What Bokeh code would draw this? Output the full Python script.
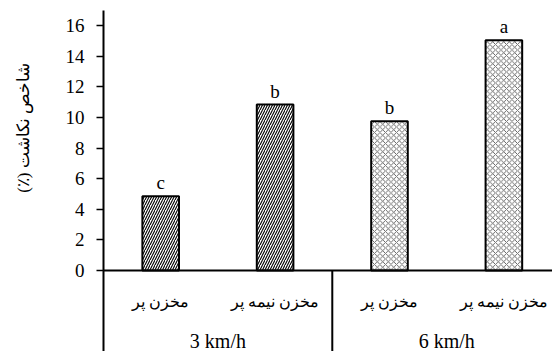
from bokeh.plotting import figure
from bokeh.models import Range1d, FixedTicker, ColumnDataSource, Span
from bokeh.core.properties import value
from bokeh.embed import file_html
from bokeh.resources import INLINE

groups = ["3 km/h", "6 km/h"]
categories = ["مخزن پر", "مخزن نیمه پر", "مخزن پر", "مخزن نیمه پر"]
values = [4.85, 10.85, 9.75, 15.05]
letters = ["c", "b", "b", "a"]
y_ticks = [0, 2, 4, 6, 8, 10, 12, 14, 16]
y_label = "شاخص نکاشت (٪)"

FONT = "Liberation Serif"
RLE, PDF = "\u202B", "\u202C"
PAD = "\u00A0" * 25   # shifts the centred axis title up along the axis

xs = [i + 0.5 for i in range(len(categories))]

p = figure(width=552, height=351, output_backend="svg", toolbar_location=None,
           x_range=Range1d(0, 3.925), y_range=Range1d(-5.3, 17),
           min_border_left=103, min_border_right=0, min_border_top=10, min_border_bottom=0)
p.outline_line_color = None
p.background_fill_color = "white"
p.border_fill_color = "white"
p.xgrid.visible = False
p.ygrid.visible = False
p.xaxis.visible = False

ya = p.yaxis[0]
ya.ticker = FixedTicker(ticks=y_ticks)
ya.axis_line_width = 2
ya.axis_line_color = "black"
ya.major_tick_line_width = 1.5
ya.major_tick_out = 7
ya.major_tick_in = 0
ya.minor_tick_line_color = None
ya.major_label_standoff = 12
ya.major_label_text_font = FONT
ya.major_label_text_font_size = "19px"
ya.major_label_text_color = "black"
ya.axis_label = PAD + RLE + y_label + PDF
ya.axis_label_text_font = FONT
ya.axis_label_text_font_size = "17px"
ya.axis_label_text_font_style = "normal"
ya.axis_label_text_color = "black"
ya.axis_label_standoff = 30

g1 = ColumnDataSource(dict(x=xs[:2], top=values[:2]))
g2 = ColumnDataSource(dict(x=xs[2:], top=values[2:]))
p.vbar(x="x", top="top", width=0.32, bottom=0, source=g1, fill_color="white",
       line_color="black", line_width=2, hatch_pattern="/", hatch_color="black",
       hatch_weight=1.1, hatch_scale=5)
p.vbar(x="x", top="top", width=0.32, bottom=0, source=g2, fill_color="white",
       line_color="black", line_width=2, hatch_pattern="x", hatch_color="#555555",
       hatch_weight=0.9, hatch_scale=5.5)

# zero baseline
p.add_layout(Span(location=0, dimension="width", line_color="black", line_width=2))
# group separator
p.segment(x0=[2], y0=[0], x1=[2], y1=[-5.3], line_color="black", line_width=2)

lab = ColumnDataSource(dict(x=xs, y=values, t=letters))
p.text(x="x", y="y", text="t", source=lab, text_align="center", text_baseline="bottom",
       y_offset=-3, text_font=value(FONT), text_font_size="19px", text_color="black")

cat = ColumnDataSource(dict(x=xs, y=[-2.0] * 4, t=categories))
p.text(x="x", y="y", text="t", source=cat, text_align="center", text_baseline="middle",
       text_font=value(FONT), text_font_size="16px", text_color="black")

grp = ColumnDataSource(dict(x=[1.0, 3.0], y=[-4.6] * 2, t=groups))
p.text(x="x", y="y", text="t", source=grp, text_align="center", text_baseline="middle",
       text_font=value(FONT), text_font_size="20px", text_color="black")

open("out.html", "w").write(file_html(p, INLINE))
